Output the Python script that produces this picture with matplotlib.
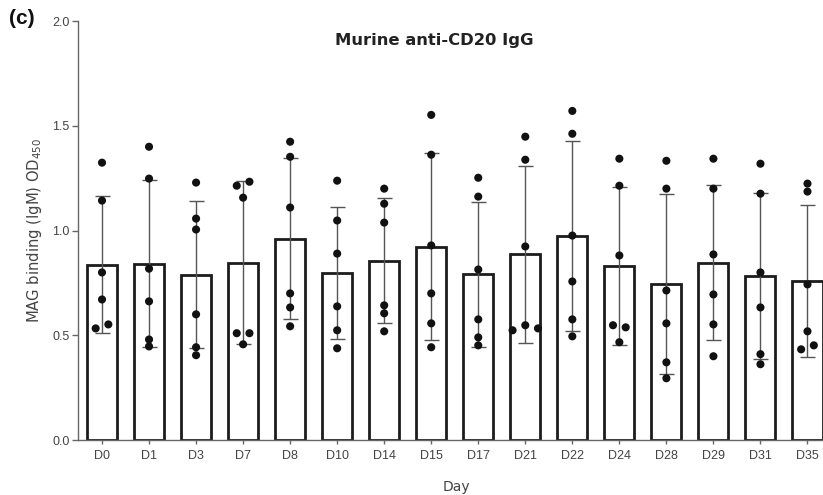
import numpy as np
import matplotlib
matplotlib.use("Agg")
import matplotlib.pyplot as plt

# days on the x axis
days = ["D0", "D1", "D3", "D7", "D8", "D10", "D14", "D15",
        "D17", "D21", "D22", "D24", "D28", "D29", "D31", "D35"]

# individual mice, MAG binding (IgM) OD450
d0 = [1.324, 1.143, 0.800, 0.671, 0.533, 0.552]
d1 = [1.400, 1.248, 0.818, 0.662, 0.480, 0.447]
d3 = [1.229, 1.057, 1.005, 0.600, 0.443, 0.405]
d7 = [1.214, 1.233, 1.157, 0.510, 0.510, 0.457]
d8 = [1.424, 1.352, 1.110, 0.700, 0.633, 0.543]
d10 = [1.238, 1.048, 0.890, 0.638, 0.524, 0.438]
d14 = [1.200, 1.128, 1.038, 0.643, 0.605, 0.519]
d15 = [1.552, 1.362, 0.929, 0.700, 0.557, 0.443]
d17 = [1.252, 1.162, 0.814, 0.576, 0.490, 0.452]
d21 = [1.448, 1.338, 0.524, 0.548, 0.533, 0.924]
d22 = [1.571, 1.462, 0.976, 0.757, 0.576, 0.495]
d24 = [1.343, 1.214, 0.881, 0.548, 0.538, 0.467]
d28 = [1.333, 1.200, 0.714, 0.557, 0.371, 0.295]
d29 = [1.343, 1.200, 0.886, 0.695, 0.552, 0.400]
d31 = [1.319, 1.176, 0.800, 0.633, 0.410, 0.362]
d35 = [1.224, 1.186, 0.743, 0.519, 0.433, 0.452]

groups = [d0, d1, d3, d7, d8, d10, d14, d15,
          d17, d21, d22, d24, d28, d29, d31, d35]


# spread out points that would sit on top of each other
def dodge(vals, thresh=0.03, step=0.27):
    vals = np.asarray(vals)
    order = np.argsort(vals)
    offs = np.zeros(len(vals))
    clusters = [[order[0]]]
    for i in order[1:]:
        if vals[i] - vals[clusters[-1][-1]] < thresh:
            clusters[-1].append(i)
        else:
            clusters.append([i])
    for c in clusters:
        if len(c) == 1:
            continue
        c = sorted(c)  # keep the order of the data list
        if len(c) == 2:
            sh = [-step / 2, step / 2]
        else:
            sh = np.linspace(-step, step, len(c))
        for k, idx in enumerate(c):
            offs[idx] = sh[k]
    return offs


means = [np.mean(g) for g in groups]
sds = [np.std(g, ddof=1) for g in groups]
x = np.arange(len(days))

fig = plt.figure(figsize=(8.23, 4.95), dpi=100)
ax = fig.add_axes([0.0948, 0.111, 0.9052, 0.8465])

ax.bar(x, means, width=0.64, color="white", edgecolor="#1c1c1c",
       linewidth=2.0, zorder=2)
ax.errorbar(x, means, yerr=sds, fmt="none", ecolor="#555555",
            elinewidth=1.0, capsize=5.4, capthick=1.0, zorder=3)
for i, g in enumerate(groups):
    ax.scatter(x[i] + dodge(g), g, s=34, color="#111111",
               edgecolor="none", zorder=4)

ax.set_xlim(-0.51, 15.33)
ax.set_ylim(0, 2.0)
ax.set_yticks([0.0, 0.5, 1.0, 1.5, 2.0])
ax.set_yticklabels(["0.0", "0.5", "1.0", "1.5", "2.0"])
ax.set_xticks(x)
ax.set_xticklabels(days)

for s in ["top", "right"]:
    ax.spines[s].set_visible(False)
for s in ["left", "bottom"]:
    ax.spines[s].set_color("#666666")
    ax.spines[s].set_linewidth(1.0)

ax.tick_params(axis="y", length=4, width=1, color="#666666", pad=2,
               labelsize=9, labelcolor="#444444")
ax.tick_params(axis="x", length=3, width=1, color="#666666", pad=4,
               labelsize=9, labelcolor="#444444")
for lab in ax.get_xticklabels() + ax.get_yticklabels():
    lab.set_family("Liberation Sans")

fig.text(434 / 823, 1 - 41 / 495, "Murine anti-CD20 IgG", ha="center",
         va="center", fontsize=11.8, fontweight="bold", color="#222222",
         family="DejaVu Sans")
fig.text(22 / 823, 1 - 19 / 495, "(c)", ha="center", va="center",
         fontsize=15, fontweight="bold", color="#111111",
         family="Liberation Sans")
fig.text(35 / 823, 1 - 230 / 495, "MAG binding (IgM) OD$_{450}$",
         rotation=90, ha="center", va="center", fontsize=10.6,
         color="#444444", family="DejaVu Sans")
fig.text(456 / 823, 1 - 487 / 495, "Day", ha="center", va="center",
         fontsize=10, color="#444444", family="DejaVu Sans")

fig.savefig("out.png", dpi=100)
